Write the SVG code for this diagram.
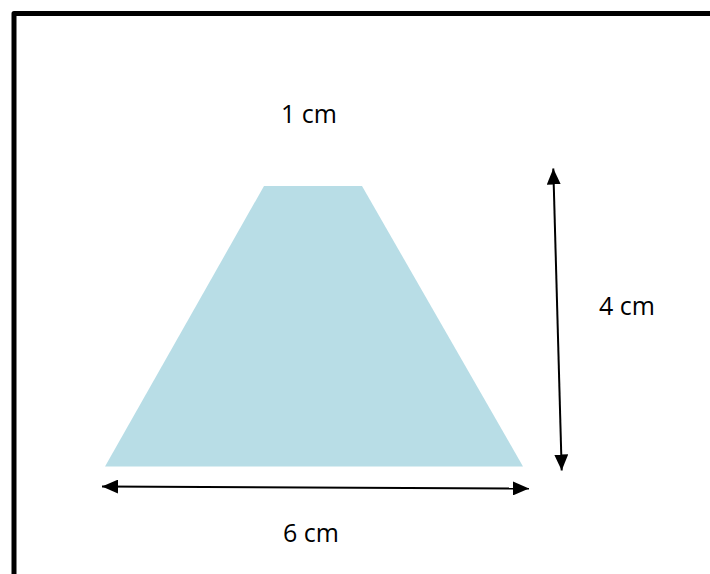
<svg xmlns="http://www.w3.org/2000/svg" width="710" height="574" viewBox="0 0 710 574">
<defs>
<style>
.lbl{font-family:"Open Sans","Noto Sans",sans-serif;font-size:25px;fill:#000}
.dim{stroke:#000;stroke-width:2;fill:none}
</style>
<marker id="ah" viewBox="0 0 16 14" refX="16" refY="7" markerWidth="16" markerHeight="14" markerUnits="userSpaceOnUse" orient="auto-start-reverse">
<path d="M0,0 L16,7 L0,14 Z" fill="#000"/>
</marker>
</defs>
<rect x="0" y="0" width="710" height="574" fill="#fff"/>
<rect x="14" y="13.5" width="760" height="620" fill="none" stroke="#000" stroke-width="5" stroke-linejoin="round"/>
<g id="trapezoid">
<polygon points="264,186 362,186 523,466.5 105,466.5" fill="#b8dde6"/>
</g>
<g id="connectors">
<line class="dim" x1="102" y1="486.5" x2="529" y2="488.5" marker-start="url(#ah)" marker-end="url(#ah)"/>
<line class="dim" x1="553.3" y1="168.5" x2="561.7" y2="470.5" marker-start="url(#ah)" marker-end="url(#ah)"/>
</g>
<g id="label-top"><text class="lbl" x="281" y="123">1 cm</text></g>
<g id="label-right"><text class="lbl" x="599" y="315">4 cm</text></g>
<g id="label-bottom"><text class="lbl" x="283" y="542">6 cm</text></g>
</svg>
